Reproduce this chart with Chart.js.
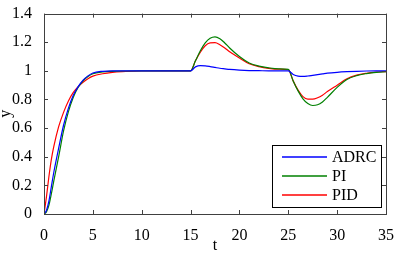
<!DOCTYPE html>
<html>
<head>
<meta charset="utf-8">
<script src="https://cdn.jsdelivr.net/npm/chart.js@4.4.1/dist/chart.umd.min.js"></script>
<style>
    body { margin: 0; background: #fff; }
    canvas { display: block; }
</style>
</head>
<body>
<canvas id="Chart1" width="398" height="253"></canvas>
<script>
// time samples (s)
const t = [0, 0.25, 0.5, 0.75, 1, 1.5, 2, 2.5, 3, 3.5, 4, 4.5, 5, 6, 7, 8, 10, 12, 15,
    15.5, 16, 16.5, 17, 17.5, 18, 18.5, 19, 20, 21, 22, 23, 24, 25,
    25.5, 26, 26.5, 27, 27.5, 28, 28.5, 29, 30, 31, 32, 33, 34, 35];

const adrc = [0, 0.025, 0.09, 0.19, 0.29, 0.46, 0.62, 0.74, 0.83, 0.89, 0.935, 0.965, 0.985, 0.997, 1.0, 1.0, 1.0, 1.0, 1.0,
    1.028, 1.037, 1.035, 1.03, 1.024, 1.018, 1.014, 1.01, 1.005, 1.002, 1.001, 1.0, 1.0, 1.0,
    0.975, 0.963, 0.961, 0.964, 0.969, 0.974, 0.979, 0.984, 0.99, 0.994, 0.997, 0.999, 1.0, 1.0];

const pi = [0, 0.015, 0.06, 0.14, 0.23, 0.40, 0.58, 0.715, 0.815, 0.885, 0.93, 0.96, 0.98, 0.993, 0.997, 0.999, 1.0, 1.0, 1.0,
    1.07, 1.14, 1.195, 1.228, 1.238, 1.225, 1.195, 1.16, 1.10, 1.055, 1.033, 1.021, 1.014, 1.01,
    0.93, 0.86, 0.805, 0.772, 0.758, 0.763, 0.783, 0.815, 0.885, 0.94, 0.967, 0.981, 0.99, 0.995];

const pid = [0, 0.12, 0.26, 0.38, 0.47, 0.61, 0.71, 0.79, 0.85, 0.89, 0.92, 0.945, 0.963, 0.98, 0.99, 0.995, 0.999, 1.0, 1.0,
    1.07, 1.13, 1.175, 1.195, 1.197, 1.183, 1.16, 1.133, 1.09, 1.05, 1.03, 1.018, 1.012, 1.008,
    0.93, 0.865, 0.82, 0.802, 0.802, 0.812, 0.83, 0.855, 0.9, 0.945, 0.97, 0.983, 0.991, 0.995];

const seriesNames = ['ADRC', 'PI', 'PID'];
const seriesColors = ['#0000ff', '#008000', '#ff0000'];

const xTicks = [0, 5, 10, 15, 20, 25, 30, 35];
const yTicks = [0, 0.2, 0.4, 0.6, 0.8, 1, 1.2, 1.4];
const yTickLabels = ['0', '0.2', '0.4', '0.6', '0.8', '1', '1.2', '1.4'];

const serif = "'Liberation Serif', 'DejaVu Serif', serif";

function toPoints(ys) {
    return t.map((x, i) => ({x: x, y: ys[i]}));
}

// box, inward ticks on all four sides, axis titles and the legend box
const matlabFrame = {
    id: 'matlabFrame',
    afterDraw(chart) {
        const ctx = chart.ctx;
        const a = chart.chartArea;
        const xs = chart.scales.x;
        const ys = chart.scales.y;
        const tl = 4;

        ctx.save();
        ctx.strokeStyle = '#404040';
        ctx.lineWidth = 1;
        ctx.beginPath();
        xTicks.forEach(v => {
            const px = Math.round(xs.getPixelForValue(v)) + 0.5;
            ctx.moveTo(px, a.bottom);
            ctx.lineTo(px, a.bottom - tl);
            ctx.moveTo(px, a.top);
            ctx.lineTo(px, a.top + tl);
        });
        yTicks.forEach(v => {
            const py = Math.round(ys.getPixelForValue(v)) + 0.5;
            ctx.moveTo(a.left, py);
            ctx.lineTo(a.left + tl, py);
            ctx.moveTo(a.right, py);
            ctx.lineTo(a.right - tl, py);
        });
        ctx.stroke();
        ctx.strokeRect(Math.round(a.left) + 0.5, Math.round(a.top) + 0.5,
            Math.round(a.right - a.left), Math.round(a.bottom - a.top));

        // axis titles
        ctx.fillStyle = '#000';
        ctx.font = '16px ' + serif;
        ctx.textAlign = 'center';
        ctx.textBaseline = 'alphabetic';
        ctx.fillText('t', (a.left + a.right) / 2, 250);
        ctx.save();
        ctx.translate(10, (a.top + a.bottom) / 2);
        ctx.rotate(-Math.PI / 2);
        ctx.fillText('y', 0, 0);
        ctx.restore();

        // legend
        const lx = 272, ly = 145, lw = 109, lh = 62;
        ctx.fillStyle = '#fff';
        ctx.fillRect(lx, ly, lw, lh);
        ctx.strokeStyle = '#000';
        ctx.lineWidth = 1;
        ctx.strokeRect(lx + 0.5, ly + 0.5, lw, lh);
        ctx.textAlign = 'left';
        ctx.textBaseline = 'middle';
        seriesNames.forEach((name, i) => {
            const ry = ly + 12 + i * 19;
            ctx.strokeStyle = seriesColors[i];
            ctx.lineWidth = 1.3;
            ctx.beginPath();
            ctx.moveTo(282, ry);
            ctx.lineTo(327, ry);
            ctx.stroke();
            ctx.fillStyle = '#000';
            ctx.fillText(name, 332, ry + 1);
        });
        ctx.restore();
    }
};

const chart = new Chart(document.getElementById('Chart1').getContext('2d'), {
    type: 'line',
    data: {
        datasets: [adrc, pi, pid].map((ys, i) => ({
            label: seriesNames[i],
            data: toPoints(ys),
            borderColor: seriesColors[i],
            borderWidth: 1.2,
            pointRadius: 0,
            fill: false,
            cubicInterpolationMode: 'monotone'
        }))
    },
    options: {
        responsive: false,
        animation: false,
        layout: {padding: {left: 0, top: 5, right: 9, bottom: 0}},
        plugins: {
            legend: {display: false},
            tooltip: {enabled: false}
        },
        scales: {
            x: {
                type: 'linear',
                min: 0,
                max: 35,
                afterBuildTicks: s => { s.ticks = xTicks.map(v => ({value: v})); },
                afterFit: s => { s.height = 39; },
                grid: {display: false},
                border: {display: false},
                ticks: {
                    color: '#000',
                    padding: 4,
                    maxRotation: 0,
                    font: {family: serif, size: 16},
                    callback: v => String(v)
                }
            },
            y: {
                min: 0,
                max: 1.4,
                afterBuildTicks: s => { s.ticks = yTicks.map(v => ({value: v})); },
                afterFit: s => { s.width = 44; },
                grid: {display: false},
                border: {display: false},
                ticks: {
                    color: '#000',
                    padding: 4,
                    font: {family: serif, size: 16},
                    callback: (v, i) => yTickLabels[i]
                }
            }
        }
    },
    plugins: [matlabFrame]
});
</script>
</body>
</html>
